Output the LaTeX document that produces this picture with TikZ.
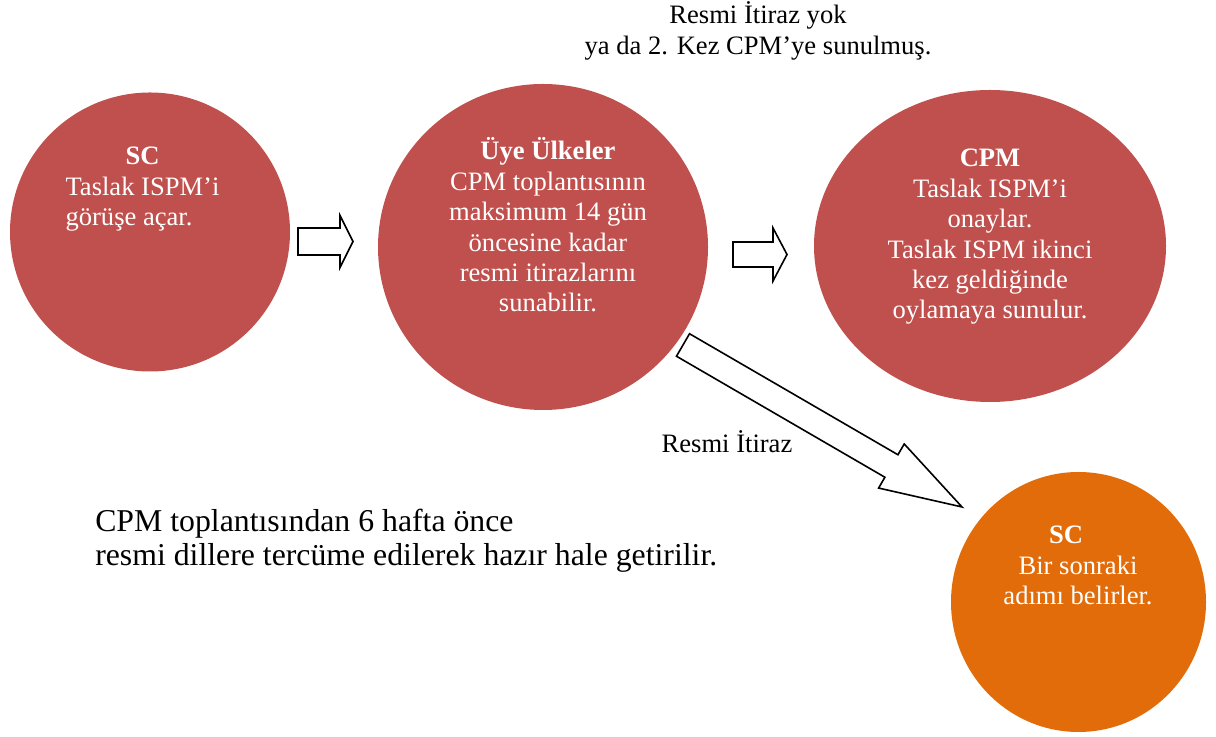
\documentclass[tikz,border=0pt]{standalone}
\usepackage{fontspec}
\setmainfont{Liberation Serif}
\usetikzlibrary{shapes.geometric}
\definecolor{ispmred}{HTML}{C0504D}
\definecolor{ispmorange}{HTML}{E36C0A}
\def\blockarrow(#1)[#2](#3:#4:#5:#6){\draw[blockline, shift={(#1)}, rotate=#2] (0,-#5) -- ({#3-#4},-#5) -- ({#3-#4},-#6) -- (#3,0) -- ({#3-#4},#6) -- ({#3-#4},#5) -- (0,#5) -- cycle;}
\tikzset{
  ball/.style={ellipse, inner sep=0pt},
  redball/.style={ball, fill=ispmred},
  orangeball/.style={ball, fill=ispmorange},
  balltext/.style={text=white, anchor=base, inner sep=0pt, font=\fontsize{18.9}{21.6}\selectfont},
  plaintext/.style={anchor=base, inner sep=0pt, font=\fontsize{18.9}{21.6}\selectfont},
  blockline/.style={line width=0.4mm, fill=white, line join=miter},
}

\begin{document}
\begin{tikzpicture}
		%%%%% START %%%%%
		\useasboundingbox (0,0) rectangle (30.4,18.425);
		
		% the four steps
		\node[redball, minimum width=7cm, minimum height=6.975cm] (sc) at (3.75, 12.625) {};
		\node[redball, minimum width=8.25cm, minimum height=8.15cm] (uye) at (13.575, 12.25) {};
		\node[redball, minimum width=8.8cm, minimum height=7.8cm] (cpm) at (24.75, 12.275) {};
		\node[orangeball, minimum width=6.375cm, minimum height=6.5cm] (scnext) at (26.9625, 3.375) {};
		
		\node[balltext] (sctext) at (3.5625, 14.3) {\begin{tabular}[t]{@{}l@{}}\multicolumn{1}{@{}c@{}}{\textbf{SC}}\\Taslak ISPM’i\\görüşe açar.\end{tabular}};
		\node[balltext] (uyetext) at (13.7, 14.425) {\begin{tabular}[t]{@{}c@{}}\textbf{Üye Ülkeler}\\CPM toplantısının\\maksimum 14 gün\\öncesine kadar\\resmi itirazlarını\\sunabilir.\end{tabular}};
		\node[balltext] (cpmtext) at (24.75, 14.25) {\begin{tabular}[t]{@{}c@{}}\textbf{CPM}\\Taslak ISPM’i\\onaylar.\\Taslak ISPM ikinci\\kez geldiğinde\\oylamaya sunulur.\end{tabular}};
		\node[balltext] (scnexttext) at (26.95, 4.825) {\begin{tabular}[t]{@{}c@{}}\textbf{SC}\kern0.6cm\\Bir sonraki\\adımı belirler.\end{tabular}};
		
		% block arrows
		\blockarrow(7.45,12.3875)[0](1.375:0.325:0.3375:0.65)
		\blockarrow(18.325,12.0625)[0](1.35:0.35:0.3125:0.6625)
		\blockarrow(17.075,9.8)[-30.14](8.065:2.04:0.325:0.6375)
		
		% labels
		\node[plaintext] (yok) at (18.95, 17.825) {\begin{tabular}[t]{@{}c@{}}Resmi İtiraz yok\\ya da 2. Kez CPM’ye sunulmuş.\end{tabular}};
		\node[plaintext] (itiraz) at (18.175, 7.1) {Resmi İtiraz};
		
		\node[plaintext, anchor=base west, font=\fontsize{22.6}{24}\selectfont] (hafta) at (2.375, 5.125) {\begin{tabular}[t]{@{}l@{}}CPM toplantısından 6 hafta önce\\resmi dillere tercüme edilerek hazır hale getirilir.\end{tabular}};
		
		%%%%% END %%%%%
	\end{tikzpicture}
\end{document}
